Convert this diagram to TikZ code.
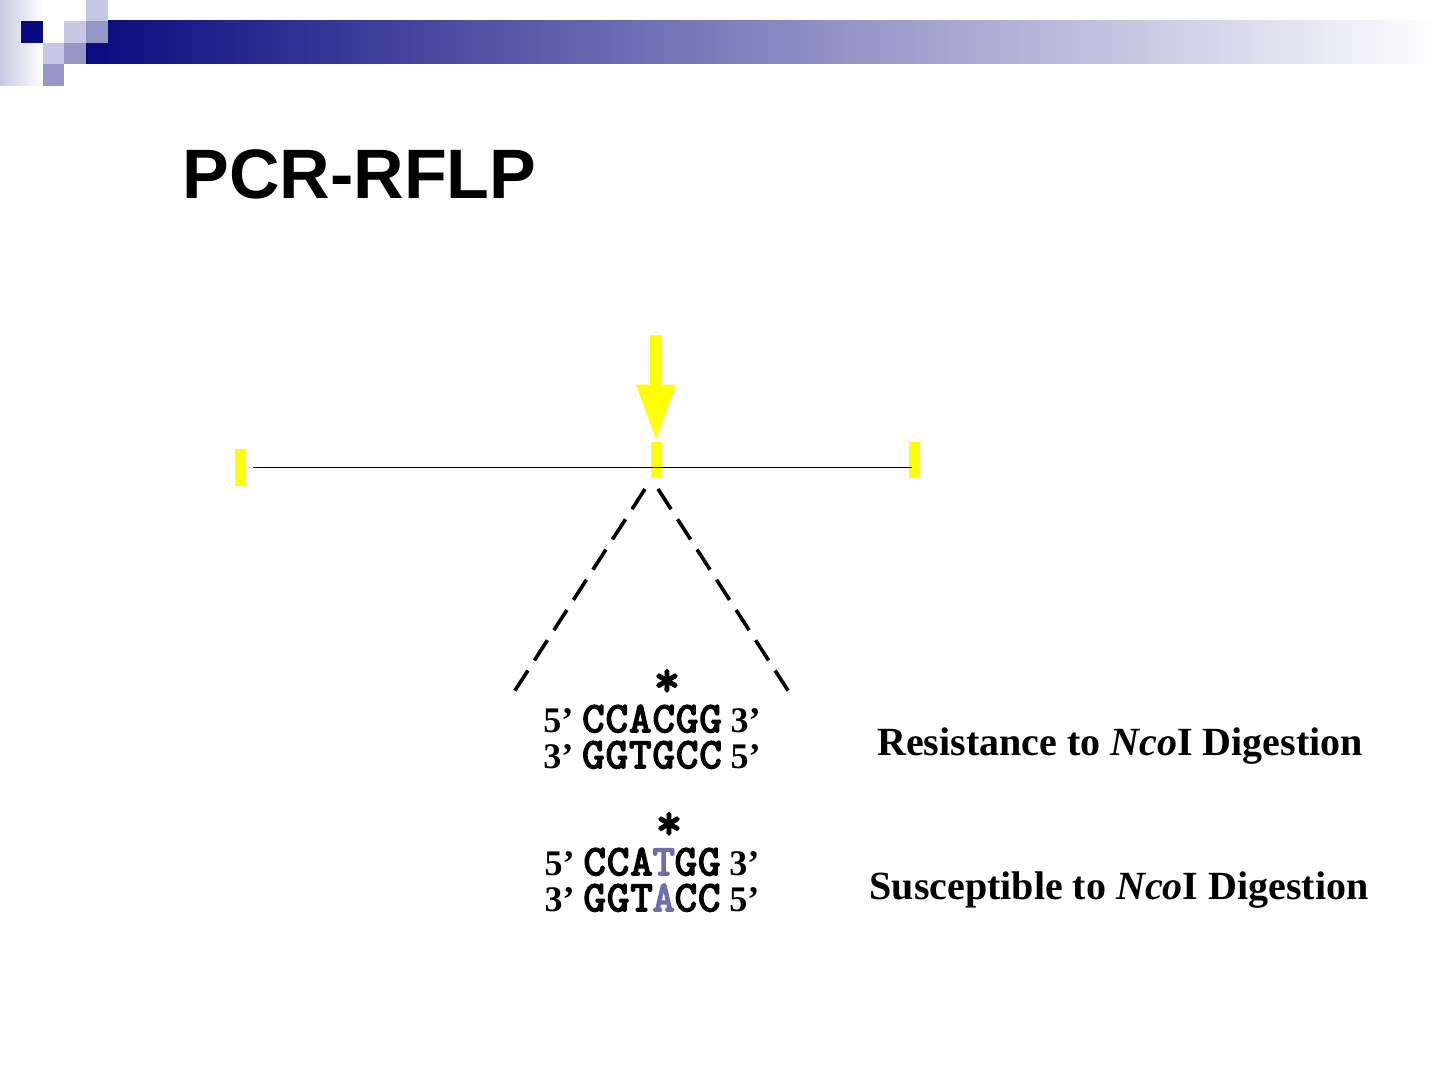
\documentclass[tikz,border=0pt]{standalone}
\usepackage{fontspec}
\setmainfont{Liberation Serif}
\newfontfamily\arialf{Liberation Sans}
\newfontfamily\courf[FakeBold=4,LetterSpace=3]{Latin Modern Mono}
\newfontfamily\starf[FakeBold=4]{Latin Modern Mono}
\usetikzlibrary{arrows.meta}
\definecolor{navy}{RGB}{10,10,128}
\definecolor{lavA}{RGB}{200,200,228}
\definecolor{lavB}{RGB}{150,150,200}
\definecolor{snp}{RGB}{110,110,170}
\definecolor{yel}{RGB}{255,255,0}
\newcommand{\seqtxt}[1]{{\courf\fontsize{21.5}{22}\selectfont #1}}
\tikzset{
  marker/.style={rectangle, fill=yel, draw=none, inner sep=0pt, minimum width=5.5pt, minimum height=18pt},
  strand/.style={anchor=base, inner sep=0pt, font=\bfseries\fontsize{18}{19}\selectfont},
  star/.style={anchor=base, inner sep=0pt, font=\starf\fontsize{25}{26}\selectfont},
  label/.style={anchor=base, inner sep=0pt, font=\bfseries\fontsize{20}{24}\selectfont},
  yarrow/.style={draw=yel, line width=6pt, -{Triangle[width=18pt,length=28.5pt,fill=yel]}},
  dna/.style={draw=black, line width=0.75pt},
  zoomline/.style={draw=black, line width=1.8pt, dash pattern=on 12pt off 6pt}
}
\begin{document}
\begin{tikzpicture}[x=0.5pt,y=-0.5pt]
\useasboundingbox (0,0) rectangle (1440,1080);
% header decoration
\shade[left color=lavA, right color=white] (0,0) rectangle (43,86);
\shade[left color=navy, right color=white] (86,21) rectangle (1440,64);
\fill[navy] (21,21) rectangle (43,43);
\fill[white] (43,21) rectangle (64,43);
\fill[lavA] (64,21) rectangle (86,43);
\fill[lavB] (86,21) rectangle (108,43);
\fill[lavA] (86,0) rectangle (108,21);
\fill[lavA] (43,43) rectangle (64,64);
\fill[lavB] (64,43) rectangle (86,64);
\fill[lavB] (43,64) rectangle (64,86);
% title
\node[anchor=base west, inner sep=0pt, font=\arialf\bfseries\fontsize{35}{40}\selectfont] (title) at (182,199) {PCR-RFLP};
% markers and DNA line
\node[marker] (mL) at (240.5,467.5) {};
\node[marker] (mM) at (656,460) {};
\node[marker] (mR) at (914.5,460) {};
\coordinate (lineA) at (253,467.5);
\coordinate (lineB) at (912,467.5);
\draw[dna] (lineA) -- (lineB);
% arrow
\coordinate (arrTop) at (656,335);
\draw[yarrow] (arrTop) -- (mM.north);
% dashed zoom lines
\coordinate (zL1) at (645,489);
\coordinate (zL2) at (514,692);
\coordinate (zR1) at (658,489);
\coordinate (zR2) at (789,692);
\draw[zoomline] (zL1) -- (zL2);
\draw[zoomline] (zR1) -- (zR2);
% sequences
\node[star] (st1) at (667,696) {*};
\node[strand] (s1) at (652,732) {5’ \seqtxt{CCACGG} 3’};
\node[strand] (s2) at (652,768) {3’ \seqtxt{GGTGCC} 5’};
\node[star] (st2) at (669,839) {*};
\node[strand] (s3) at (652,875) {5’ \seqtxt{CCA\textcolor{snp}{T}GG} 3’};
\node[strand] (s4) at (652,911) {3’ \seqtxt{GGT\textcolor{snp}{A}CC} 5’};
% labels
\node[label] (lab1) at (1120,755) {Resistance to \textit{Nco}I Digestion};
\node[label] (lab2) at (1119,899) {Susceptible to \textit{Nco}I Digestion};
\end{tikzpicture}
\end{document}
